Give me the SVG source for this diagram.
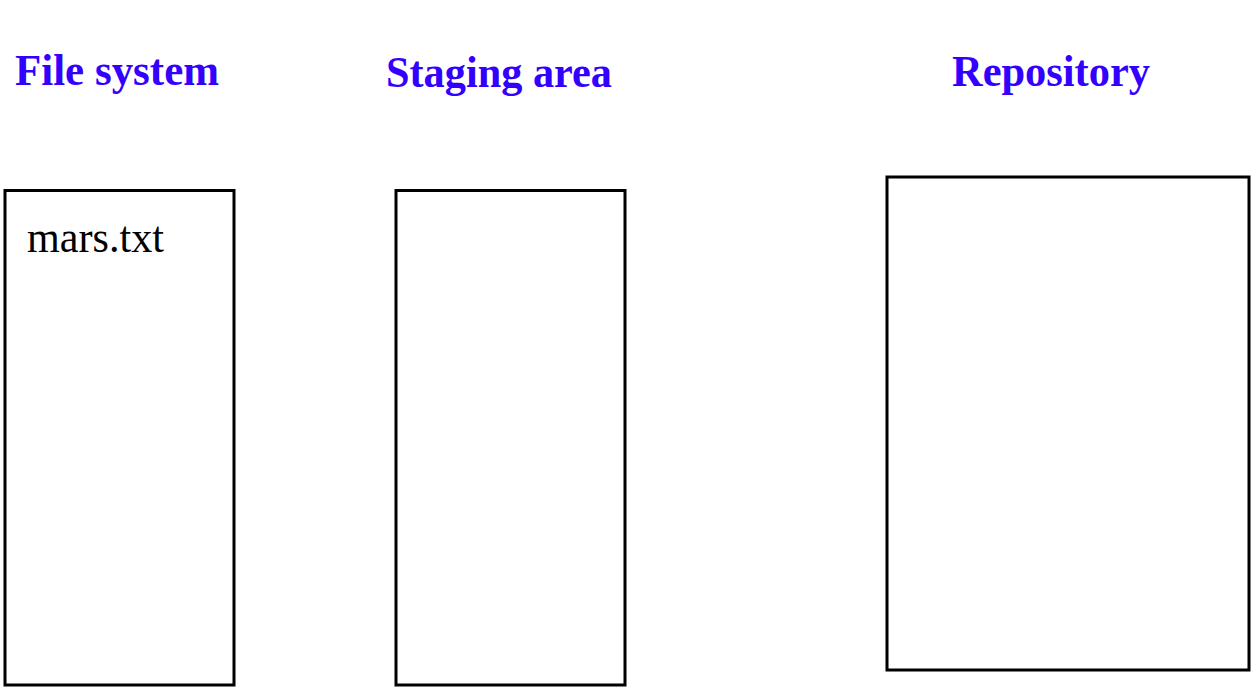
<svg xmlns="http://www.w3.org/2000/svg" width="1260" height="698" viewBox="0 0 1260 698">
<style>
.title{font-family:"Liberation Serif","Times New Roman",serif;font-weight:bold;font-size:44px;fill:#3300ff}
.box{fill:#ffffff;stroke:#000000;stroke-width:3}
.file{font-family:"Liberation Serif","Times New Roman",serif;font-size:45px;fill:#000000}
</style>
<rect width="1260" height="698" fill="#ffffff"/>
<g id="filesystem">
<text class="title" x="15" y="85" textLength="204" lengthAdjust="spacingAndGlyphs">File system</text>
<rect class="box" x="5" y="190.5" width="229" height="494.5"/>
<text class="file" x="27" y="252" textLength="137" lengthAdjust="spacingAndGlyphs">mars.txt</text>
</g>
<g id="staging">
<text class="title" x="386" y="87" textLength="226" lengthAdjust="spacingAndGlyphs">Staging area</text>
<rect class="box" x="396" y="190.5" width="229" height="494.5"/>
</g>
<g id="repository">
<text class="title" x="952" y="86" textLength="198" lengthAdjust="spacingAndGlyphs">Repository</text>
<rect class="box" x="887" y="177" width="362" height="493"/>
</g>
<g id="connectors"></g>
</svg>
